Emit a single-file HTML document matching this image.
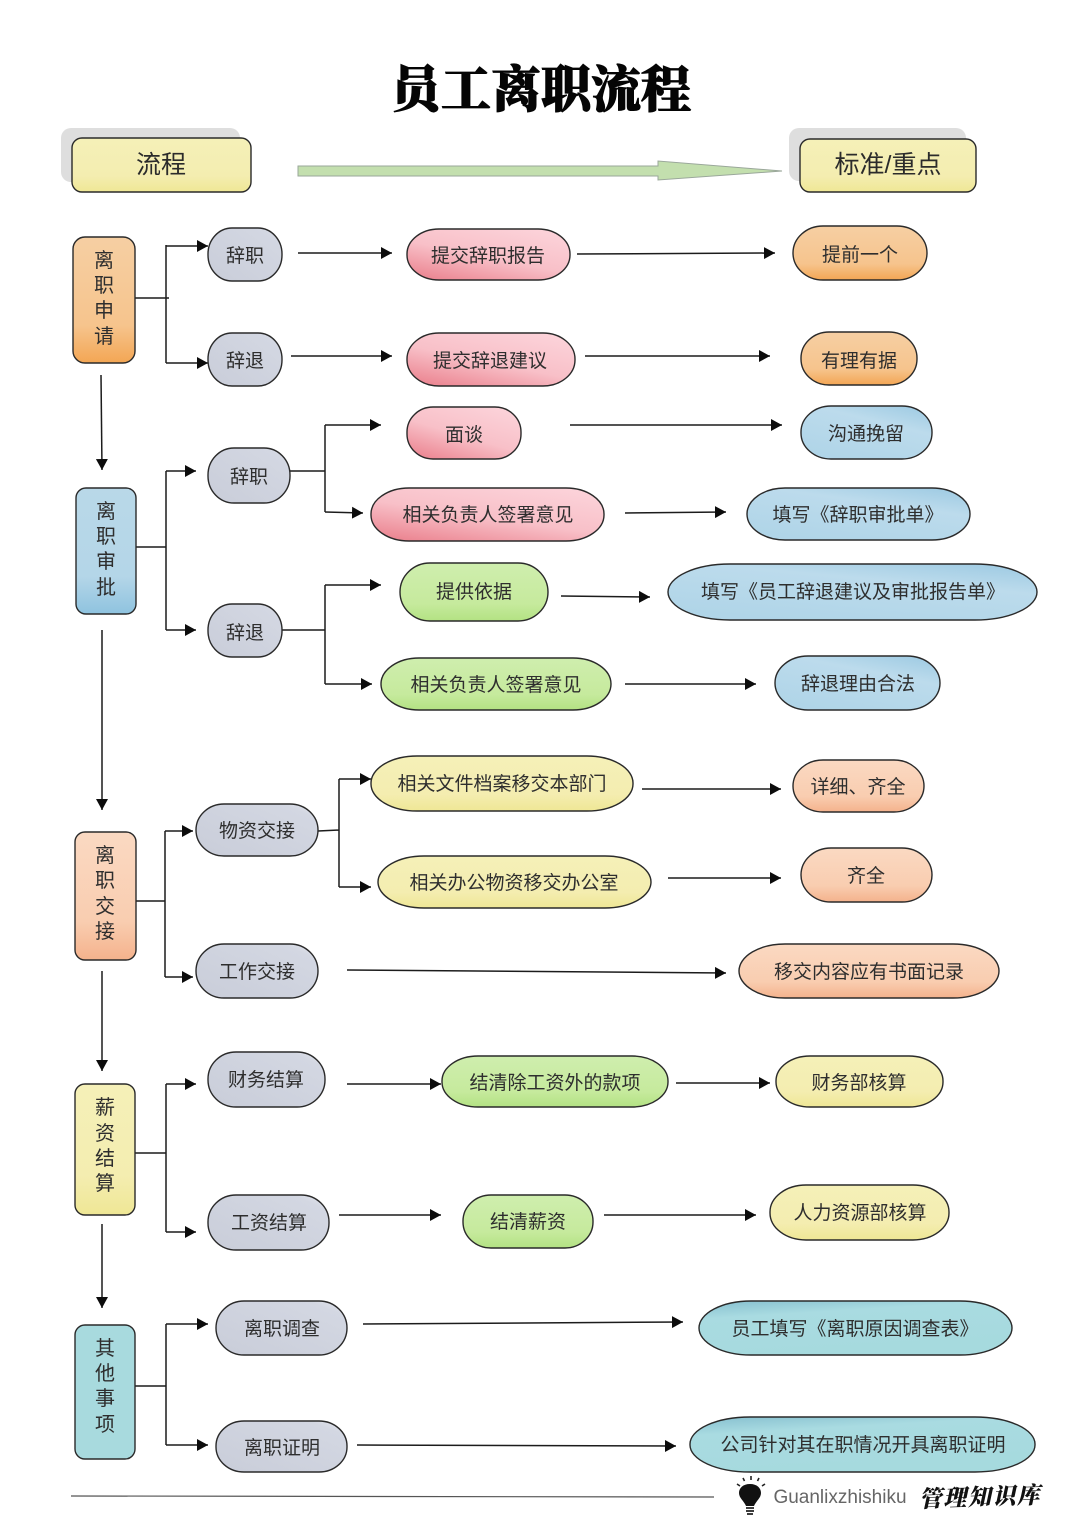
<!DOCTYPE html>
<html lang="zh">
<head>
<meta charset="utf-8">
<title>员工离职流程</title>
<style>
html,body{margin:0;padding:0;background:#fff;}
svg{display:block;}
text{font-family:"Liberation Sans","Noto Sans CJK SC",sans-serif;font-size:19px;fill:#2e2e2e;text-anchor:middle;}
.n{stroke:#2a2a2a;stroke-width:1.4;}
.l{fill:none;stroke:#1c1c1c;stroke-width:1.5;}
.a{fill:none;stroke:#1c1c1c;stroke-width:1.5;marker-end:url(#ah);}
.h{font-size:25px;fill:#2b2b2b;}
.v{font-size:20px;}
</style>
</head>
<body>
<svg width="1080" height="1528" viewBox="0 0 1080 1528" xmlns="http://www.w3.org/2000/svg">
<defs>
<marker id="ah" markerUnits="userSpaceOnUse" markerWidth="11" markerHeight="12" refX="11" refY="6" orient="auto"><path d="M0,0 L11,6 L0,12 Z" fill="#0c0c0c"/></marker>
<linearGradient id="yl" x1="0" y1="0" x2="0" y2="1"><stop offset="0" stop-color="#f5f0b8"/><stop offset=".7" stop-color="#f4edb0"/><stop offset="1" stop-color="#efe795"/></linearGradient>
<linearGradient id="or" x1="0" y1="0" x2="0" y2="1"><stop offset="0" stop-color="#f6cfa3"/><stop offset=".7" stop-color="#f6c48d"/><stop offset="1" stop-color="#f3a654"/></linearGradient>
<linearGradient id="pe" x1="0" y1="0" x2="0" y2="1"><stop offset="0" stop-color="#fad9c2"/><stop offset=".7" stop-color="#f9cdb0"/><stop offset="1" stop-color="#f4b28c"/></linearGradient>
<linearGradient id="rd" x1=".85" y1="0" x2=".2" y2="1"><stop offset="0" stop-color="#fcd3da"/><stop offset=".55" stop-color="#f8c0c8"/><stop offset="1" stop-color="#ec8894"/></linearGradient>
<linearGradient id="gy" x1="0" y1="1" x2="1" y2="0"><stop offset="0" stop-color="#c9cdd9"/><stop offset=".85" stop-color="#d3d7e2"/><stop offset="1" stop-color="#e6e8ef"/></linearGradient>
<linearGradient id="bl" x1=".9" y1="0" x2=".3" y2="1"><stop offset="0" stop-color="#9fcbe3"/><stop offset=".35" stop-color="#bcdbec"/><stop offset="1" stop-color="#b0d5e8"/></linearGradient>
<linearGradient id="bv" x1="0" y1="0" x2="0" y2="1"><stop offset="0" stop-color="#b9d8e8"/><stop offset=".7" stop-color="#b4d6e8"/><stop offset="1" stop-color="#8fc3df"/></linearGradient>
<linearGradient id="gr" x1="0" y1="0" x2="0" y2="1"><stop offset="0" stop-color="#cfeeae"/><stop offset=".7" stop-color="#c6ea9d"/><stop offset="1" stop-color="#b3e283"/></linearGradient>
<linearGradient id="te" x1="0" y1="0" x2=".35" y2="1"><stop offset="0" stop-color="#86bfcf"/><stop offset=".3" stop-color="#a9dbe1"/><stop offset="1" stop-color="#a6dade"/></linearGradient>
</defs>

<rect width="1080" height="1528" fill="#fff"/>

<!-- Title -->
<text x="541" y="107" style="font-family:'Liberation Serif','Noto Serif CJK SC',serif;font-size:50px;font-weight:900;fill:#050505;stroke:#050505;stroke-width:1">员工离职流程</text>

<!-- Headers -->
<rect x="61" y="128" width="179" height="54" rx="10" fill="#dedede"/>
<rect x="72" y="138" width="179" height="54" rx="10" fill="url(#yl)" class="n"/>
<text x="161" y="173" class="h">流程</text>
<rect x="789" y="128" width="177" height="53" rx="10" fill="#dedede"/>
<rect x="800" y="139" width="176" height="53" rx="10" fill="url(#yl)" class="n"/>
<text x="888" y="173" class="h">标准/重点</text>
<path d="M298,166 H658 V161 L782,171 L658,180 V176 H298 Z" fill="#c3dfae" stroke="#9aa79a" stroke-width="1"/>

<!-- Connectors -->
<path class="l" d="M135,298 H169 M166,245 V363"/>
<path class="a" d="M166,246 H208"/>
<path class="a" d="M166,363 H208"/>
<path class="a" d="M298,253 H392"/>
<path class="a" d="M291,356 H392"/>
<path class="a" d="M577,254 L775,253"/>
<path class="a" d="M585,356 H770"/>
<path class="a" d="M101,375 L102,470"/>
<path class="a" d="M102,630 V810"/>
<path class="a" d="M102,971 V1071"/>
<path class="a" d="M102,1224 V1308"/>

<path class="l" d="M136,547 H166 M166,471 V630"/>
<path class="a" d="M166,471 H196"/>
<path class="a" d="M166,630 H196"/>
<path class="l" d="M290,471 H325"/>
<path class="l" d="M325,425 V512"/>
<path class="a" d="M325,425 H381"/>
<path class="a" d="M325,512 L363,513"/>
<path class="a" d="M570,425 H782"/>
<path class="a" d="M625,513 L726,512"/>
<path class="l" d="M282,630 H325 M325,585 V684"/>
<path class="a" d="M325,585 H381"/>
<path class="a" d="M325,684 H372"/>
<path class="a" d="M561,596 L650,597"/>
<path class="a" d="M625,684 H756"/>

<path class="l" d="M136,901 H165 M165,831 V977"/>
<path class="a" d="M165,831 H193"/>
<path class="a" d="M165,977 H193"/>
<path class="l" d="M318,831 L339,830 M339,779 V887"/>
<path class="a" d="M339,779 H371"/>
<path class="a" d="M339,887 H371"/>
<path class="a" d="M642,789 H781"/>
<path class="a" d="M668,878 H781"/>
<path class="a" d="M347,970 L726,973"/>

<path class="l" d="M135,1153 H166 M166,1084 V1232"/>
<path class="a" d="M166,1084 H196"/>
<path class="a" d="M166,1232 H196"/>
<path class="a" d="M347,1084 H441"/>
<path class="a" d="M676,1083 H770"/>
<path class="a" d="M339,1215 H441"/>
<path class="a" d="M604,1215 H756"/>

<path class="l" d="M135,1386 H166 M166,1324 V1445"/>
<path class="a" d="M166,1324 H208"/>
<path class="a" d="M166,1445 H208"/>
<path class="a" d="M363,1324 L683,1322"/>
<path class="a" d="M357,1445 L676,1446"/>
<path d="M71,1496 L714,1497" fill="none" stroke="#555" stroke-width="1.2"/>

<!-- Left column -->
<rect x="73" y="237" width="62" height="126" rx="12" fill="url(#or)" class="n"/>
<text class="v" x="104" y="267">离</text><text class="v" x="104" y="292">职</text><text class="v" x="104" y="317">申</text><text class="v" x="104" y="343">请</text>
<rect x="76" y="488" width="60" height="126" rx="10" fill="url(#bv)" class="n"/>
<text class="v" x="106" y="518">离</text><text class="v" x="106" y="543">职</text><text class="v" x="106" y="568">审</text><text class="v" x="106" y="594">批</text>
<rect x="75" y="832" width="61" height="128" rx="10" fill="url(#pe)" class="n"/>
<text class="v" x="105" y="862">离</text><text class="v" x="105" y="887">职</text><text class="v" x="105" y="913">交</text><text class="v" x="105" y="938">接</text>
<rect x="75" y="1084" width="60" height="131" rx="10" fill="url(#yl)" class="n"/>
<text class="v" x="105" y="1114">薪</text><text class="v" x="105" y="1140">资</text><text class="v" x="105" y="1165">结</text><text class="v" x="105" y="1190">算</text>
<rect x="75" y="1325" width="60" height="134" rx="10" fill="#a8dade" class="n"/>
<text class="v" x="105" y="1355">其</text><text class="v" x="105" y="1380">他</text><text class="v" x="105" y="1405">事</text><text class="v" x="105" y="1431">项</text>

<!-- Section 1 -->
<rect x="208" y="228" width="74" height="53" rx="24" ry="26" fill="url(#gy)" class="n"/><text x="245" y="262">辞职</text>
<rect x="407" y="229" width="163" height="51" rx="32" ry="25" fill="url(#rd)" class="n"/><text x="488" y="262">提交辞职报告</text>
<rect x="793" y="226" width="134" height="54" rx="30" ry="27" fill="url(#or)" class="n"/><text x="860" y="261">提前一个</text>
<rect x="208" y="333" width="74" height="53" rx="24" ry="26" fill="url(#gy)" class="n"/><text x="245" y="367">辞退</text>
<rect x="407" y="333" width="168" height="53" rx="32" ry="26" fill="url(#rd)" class="n"/><text x="490" y="367">提交辞退建议</text>
<rect x="801" y="332" width="116" height="53" rx="28" ry="26" fill="url(#or)" class="n"/><text x="859" y="367">有理有据</text>

<!-- Section 2 -->
<rect x="407" y="407" width="114" height="52" rx="26" ry="25" fill="url(#rd)" class="n"/><text x="464" y="441">面谈</text>
<rect x="801" y="406" width="131" height="53" rx="30" ry="26" fill="url(#bl)" class="n"/><text x="866" y="440">沟通挽留</text>
<rect x="208" y="448" width="82" height="55" rx="26" ry="27" fill="url(#gy)" class="n"/><text x="249" y="483">辞职</text>
<rect x="371" y="488" width="233" height="53" rx="38" ry="26" fill="url(#rd)" class="n"/><text x="488" y="521">相关负责人签署意见</text>
<rect x="747" y="488" width="223" height="52" rx="38" ry="26" fill="url(#bl)" class="n"/><text x="858" y="521">填写《辞职审批单》</text>
<rect x="400" y="563" width="148" height="58" rx="30" ry="29" fill="url(#gr)" class="n"/><text x="474" y="598">提供依据</text>
<rect x="668" y="564" width="369" height="56" rx="62" ry="28" fill="url(#bl)" class="n"/><text x="853" y="598">填写《员工辞退建议及审批报告单》</text>
<rect x="208" y="604" width="74" height="53" rx="24" ry="26" fill="url(#gy)" class="n"/><text x="245" y="639">辞退</text>
<rect x="381" y="658" width="230" height="52" rx="38" ry="26" fill="url(#gr)" class="n"/><text x="496" y="691">相关负责人签署意见</text>
<rect x="775" y="656" width="165" height="54" rx="33" ry="27" fill="url(#bl)" class="n"/><text x="858" y="690">辞退理由合法</text>

<!-- Section 3 -->
<rect x="196" y="804" width="122" height="52" rx="28" ry="26" fill="url(#gy)" class="n"/><text x="257" y="837">物资交接</text>
<rect x="371" y="756" width="262" height="55" rx="46" ry="27" fill="url(#yl)" class="n"/><text x="502" y="790">相关文件档案移交本部门</text>
<rect x="793" y="760" width="131" height="52" rx="30" ry="26" fill="url(#pe)" class="n"/><text x="858" y="793">详细、齐全</text>
<rect x="378" y="856" width="273" height="52" rx="46" ry="26" fill="url(#yl)" class="n"/><text x="514" y="889">相关办公物资移交办公室</text>
<rect x="801" y="848" width="131" height="54" rx="30" ry="27" fill="url(#pe)" class="n"/><text x="866" y="882">齐全</text>
<rect x="196" y="944" width="122" height="54" rx="28" ry="27" fill="url(#gy)" class="n"/><text x="257" y="978">工作交接</text>
<rect x="739" y="944" width="260" height="54" rx="46" ry="27" fill="url(#pe)" class="n"/><text x="869" y="978">移交内容应有书面记录</text>

<!-- Section 4 -->
<rect x="208" y="1052" width="117" height="55" rx="28" ry="27" fill="url(#gy)" class="n"/><text x="266" y="1086">财务结算</text>
<rect x="442" y="1056" width="226" height="51" rx="36" ry="25" fill="url(#gr)" class="n"/><text x="555" y="1089">结清除工资外的款项</text>
<rect x="776" y="1056" width="167" height="51" rx="34" ry="25" fill="url(#yl)" class="n"/><text x="859" y="1089">财务部核算</text>
<rect x="208" y="1195" width="121" height="55" rx="28" ry="27" fill="url(#gy)" class="n"/><text x="269" y="1229">工资结算</text>
<rect x="463" y="1195" width="130" height="53" rx="28" ry="26" fill="url(#gr)" class="n"/><text x="528" y="1228">结清薪资</text>
<rect x="770" y="1185" width="179" height="55" rx="36" ry="27" fill="url(#yl)" class="n"/><text x="860" y="1219">人力资源部核算</text>

<!-- Section 5 -->
<rect x="216" y="1301" width="131" height="54" rx="28" ry="27" fill="url(#gy)" class="n"/><text x="282" y="1335">离职调查</text>
<rect x="699" y="1301" width="313" height="54" rx="52" ry="27" fill="url(#te)" class="n"/><text x="855" y="1335">员工填写《离职原因调查表》</text>
<rect x="216" y="1421" width="131" height="51" rx="28" ry="25" fill="url(#gy)" class="n"/><text x="282" y="1454">离职证明</text>
<rect x="690" y="1417" width="345" height="55" rx="60" ry="27" fill="url(#te)" class="n"/><text x="863" y="1451">公司针对其在职情况开具离职证明</text>

<!-- Footer logo -->
<g>
<path d="M750,1484 c-7,0 -11,4 -11,9 c0,5 5,8 7,13 h8 c2,-5 7,-8 7,-13 c0,-5 -4,-9 -11,-9 Z" fill="#111"/>
<path d="M746,1508 h8 M746,1511 h8 M747,1514 h6" stroke="#222" stroke-width="1.8" fill="none"/>
<path d="M737,1484 l3,2 M743,1478 l1.5,3 M751,1476 v4 M759,1478 l-1.5,3 M765,1484 l-3,2" stroke="#222" stroke-width="1.6" fill="none"/>
</g>
<text x="840" y="1503" style="font-size:19px;fill:#666">Guanlixzhishiku</text>
<text x="980" y="1505" transform="rotate(-2 980 1497)" style="font-family:'Liberation Serif','Noto Serif CJK SC',serif;font-size:23px;font-weight:900;fill:#111;letter-spacing:1.5px;font-style:italic">管理知识库</text>
</svg>
</body>
</html>
